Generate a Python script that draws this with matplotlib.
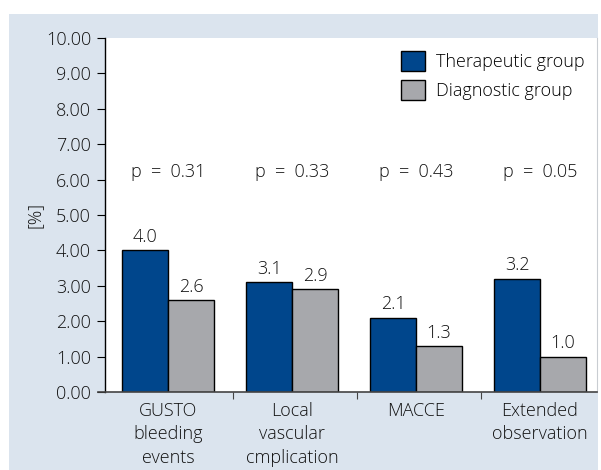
import matplotlib.pyplot as plt
import numpy as np
from matplotlib.patches import Rectangle

plt.rcParams['font.family'] = ['Open Sans', 'DejaVu Sans']

# --- Datos ---
categorias = ["GUSTO\nbleeding\nevents", "Local\nvascular\ncmplication", "MACCE", "Extended\nobservation"]
terapeutico = [4.0, 3.1, 2.1, 3.2]
diagnostico = [2.6, 2.9, 1.3, 1.0]
p_valores = ["p = 0.31", "p = 0.33", "p = 0.43", "p = 0.05"]

color_azul = "#00468c"
color_gris = "#a7a8ac"
color_panel = "#dbe4ee"
color_texto = "#111111"

W, H = 601, 470
fig = plt.figure(figsize=(W / 100, H / 100), dpi=100, facecolor="white")

# panel de fondo
fig.patches.append(Rectangle((9 / W, 0), (598 - 9) / W, (470 - 14) / H,
                             transform=fig.transFigure, facecolor=color_panel,
                             edgecolor="none", zorder=-10))

ax = fig.add_axes([105 / W, (H - 392) / H, (597 - 105) / W, (392 - 38) / H])
ax.set_facecolor("white")

x = np.arange(len(categorias))
ancho = 0.371
b1 = ax.bar(x - ancho / 2, terapeutico, ancho, color=color_azul, edgecolor="black",
            linewidth=1.0, label="Therapeutic group")
b2 = ax.bar(x + ancho / 2, diagnostico, ancho, color=color_gris, edgecolor="black",
            linewidth=1.0, label="Diagnostic group")

for bar, v in zip(list(b1) + list(b2), terapeutico + diagnostico):
    ax.text(bar.get_x() + bar.get_width() / 2, v + 0.12, f"{v:.1f}",
            ha="center", va="bottom", fontsize=13, color=color_texto, fontweight="light")

for xi, p in zip(x, p_valores):
    ax.text(xi, 6.22, p.replace(" = ", "  =  "), ha="center", va="center", fontsize=13,
            color=color_texto, fontweight="light")

ax.set_xlim(-0.51, 3.46)
ax.set_ylim(0, 10)
ax.set_yticks(np.arange(0, 11, 1))
ax.set_yticklabels([f"{v:.2f}" for v in range(11)], fontsize=13, color=color_texto,
                   fontweight="light")

ax.set_xticks([0.52, 1.52, 2.52])
ax.set_xticklabels([])
ax.set_xticks(x, minor=True)
ax.set_xticklabels(categorias, minor=True, fontsize=13, color=color_texto,
                   linespacing=1.4, fontweight="light")
ax.tick_params(axis="x", which="minor", length=0, pad=7)
ax.tick_params(axis="x", which="major", length=5, color="#444444", direction="out")
ax.tick_params(axis="y", length=6, color="black", direction="out", pad=4)

ax.spines["top"].set_visible(False)
ax.spines["right"].set_color("#c9cdd2")
ax.spines["left"].set_color("black")
ax.spines["bottom"].set_color("#444444")
ax.spines["left"].set_linewidth(1.0)
ax.spines["bottom"].set_linewidth(1.2)
ax.spines["bottom"].set_bounds(-0.57, 3.46)
ax.spines["bottom"].set_clip_on(False)

fig.text(35 / W, 1 - 215 / H, "[%]", rotation=90, ha="center", va="center",
         fontsize=13, color=color_texto, fontweight="light")

leg = ax.legend(loc="upper right", frameon=False, handlelength=1.35,
                handleheight=1.35, handletextpad=0.6, labelspacing=0.5,
                borderaxespad=0.3, prop={"size": 13, "weight": "light"})

fig.savefig("out.png", dpi=100, facecolor="white")
